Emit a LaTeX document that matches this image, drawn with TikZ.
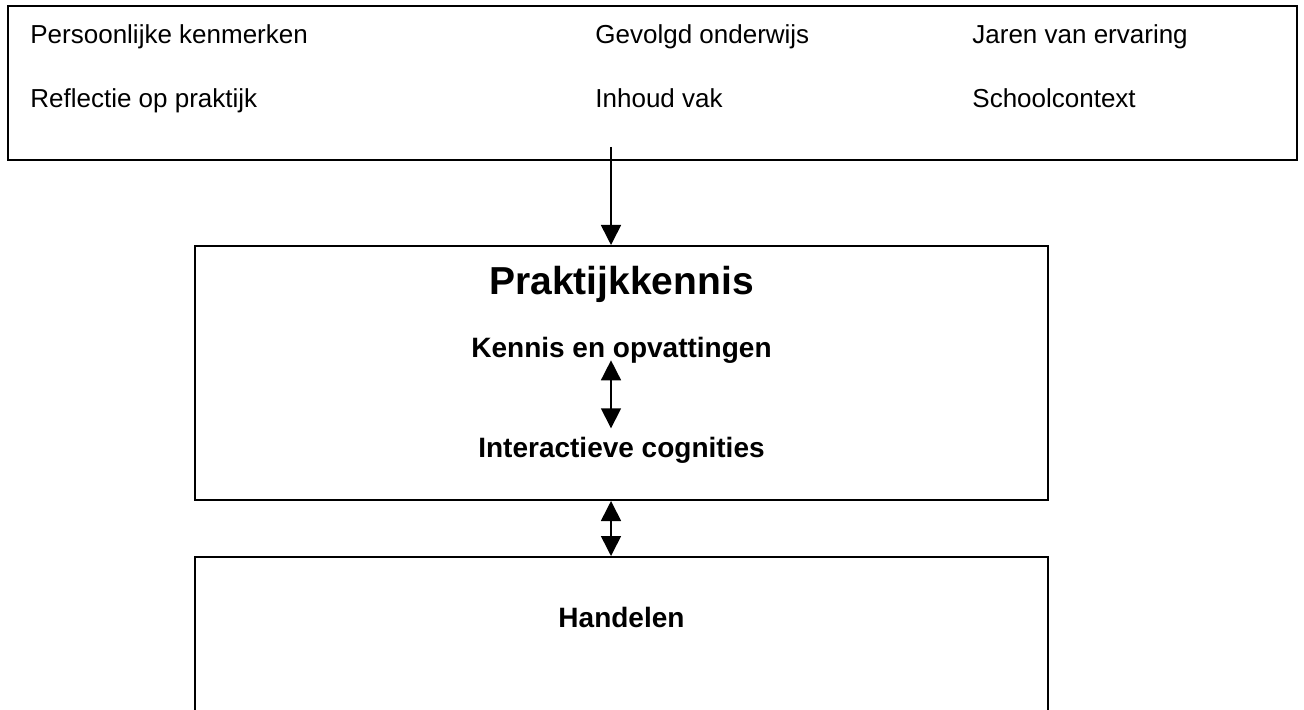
\documentclass[tikz,border=0pt]{standalone}
\usepackage{fontspec}
\setmainfont{Liberation Sans}
\usetikzlibrary{positioning, arrows.meta, calc}

\tikzset{
	kader/.style={draw, line width=1pt, rectangle, inner sep=0pt},
	factor/.style={anchor=base west, inner sep=0pt, font=\fontsize{13pt}{15pt}\selectfont},
	kop/.style={anchor=base, inner sep=0pt, font=\fontsize{14pt}{16pt}\selectfont\bfseries},
	pijl/.style={line width=0.8pt, -{Triangle[width=10pt,length=10pt]}},
	dubbelpijl/.style={line width=0.8pt, {Triangle[width=10pt,length=10pt]}-{Triangle[width=10pt,length=10pt]}}
}

\begin{document}
\begin{tikzpicture}[x=0.5pt, y=-0.5pt]
			\useasboundingbox (0,0) rectangle (1304,710);
			
			\node[kader, minimum width=644.5pt, minimum height=77pt] (invloeden) at (652.5,83) {};
			\node[kader, minimum width=426.5pt, minimum height=127pt] (praktijk) at (621.5,373) {};
			\node[kader, minimum width=426.5pt, minimum height=110pt] (handelen) at (621.5,667) {};
			
			\node[factor] (persoon) at (30,44) {Persoonlijke kenmerken};
			\node[factor] (onderwijs) at (595,44) {Gevolgd onderwijs};
			\node[factor] (ervaring) at (972,44) {Jaren van ervaring};
			\node[factor] (reflectie) at (30,108) {Reflectie op praktijk};
			\node[factor] (vak) at (595,108) {Inhoud vak};
			\node[factor] (context) at (972,108) {Schoolcontext};
			
			\node[kop, font=\fontsize{19.5pt}{22pt}\selectfont\bfseries] (titel) at (621.5,295) {Praktijkkennis};
			\node[kop] (kennis) at (621.5,358) {Kennis en opvattingen};
			\node[kop] (cognities) at (621.5,457) {Interactieve cognities};
			\node[kop] (handel) at (621.5,627) {Handelen};
			
			\coordinate (bron) at (611,147);
			
			\draw[pijl] (bron) -- (bron |- praktijk.north);
			\draw[dubbelpijl, shorten <=-2pt, shorten >=4pt] (bron |- kennis.south) -- (bron |- cognities.north);
			\draw[dubbelpijl] (bron |- praktijk.south) -- (bron |- handelen.north);
			
\end{tikzpicture}
\end{document}
